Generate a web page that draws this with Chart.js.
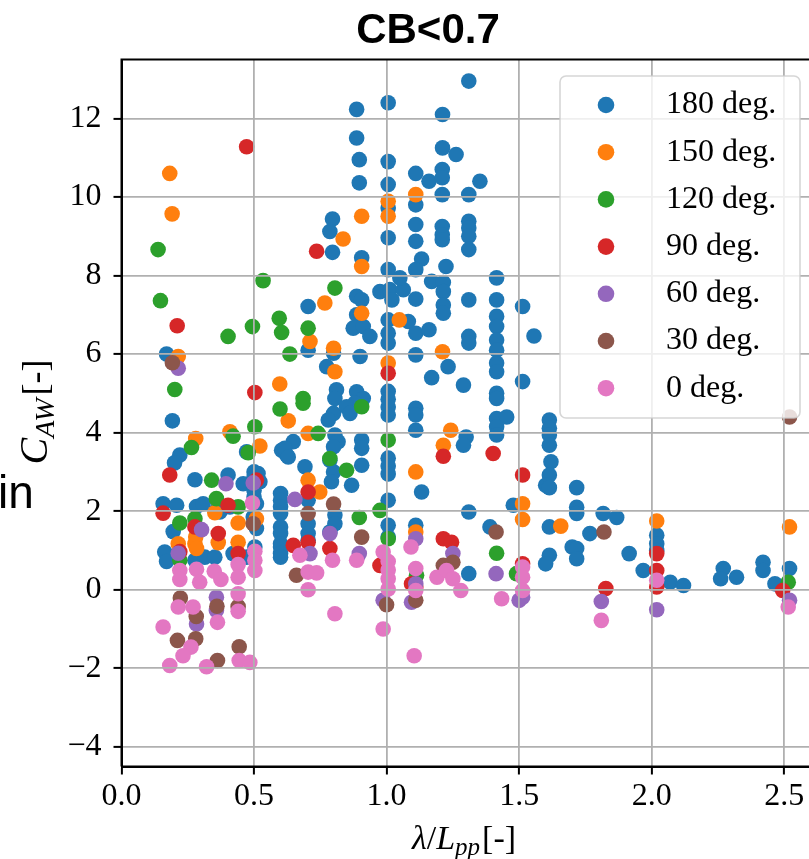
<!DOCTYPE html>
<html>
<head>
<meta charset="utf-8">
<script src="https://cdn.jsdelivr.net/npm/chart.js@4.4.1/dist/chart.umd.min.js"></script>
<style>
  html, body { margin: 0; padding: 0; background: #ffffff; overflow: hidden; }
  canvas { display: block; }
</style>
</head>
<body>
<canvas id="chart" width="856" height="859"></canvas>
<script>
// Added-resistance coefficient vs. wave length ratio, grouped by wave heading.
const headings = ['180 deg.', '150 deg.', '120 deg.', '90 deg.', '60 deg.', '30 deg.', '0 deg.'];
const colors = ['#1f77b4', '#ff7f0e', '#2ca02c', '#d62728', '#9467bd', '#8c564b', '#e377c2'];
const xTicks = [0.0, 0.5, 1.0, 1.5, 2.0, 2.5];
const yTicks = [-4, -2, 0, 2, 4, 6, 8, 10, 12];

// [lambda/Lpp, C_AW] pairs per heading
const deg180 = [
  [0.17,6.0],[0.192,4.3],[0.22,3.43],[0.2,3.23],[0.277,2.8],[0.402,2.92],[0.459,2.7],[0.515,2.96],[0.522,2.75],
  [0.157,2.19],[0.208,2.15],[0.283,2.12],[0.308,2.19],[0.358,2.02],[0.409,2.11],[0.371,1.98],
  [0.497,1.85],[0.509,2.19],[0.509,1.56],[0.195,1.48],[0.163,0.96],[0.17,0.72],[0.277,0.75],[0.314,0.83],[0.352,0.83],[0.421,0.92],[0.472,0.83],[0.503,1.09],
  [0.472,3.51],[0.604,3.55],[0.623,3.43],[0.648,3.77],
  [0.5,3.0],[0.5,2.87],[0.5,2.53],[0.5,2.36],
  [0.6,2.45],[0.6,2.28],[0.6,2.11],[0.6,1.94],[0.6,1.6],[0.6,1.43],[0.6,1.17],[0.6,1.09],[0.6,0.92],[0.6,0.83],
  [0.616,3.6],[0.629,3.38],[0.692,3.13],
  [0.704,2.28],[0.704,1.68],[0.704,1.43],[0.704,1.26],[0.704,7.21],[0.704,6.1],
  [0.811,5.09],[0.805,4.87],[0.8,4.49],[0.78,4.32],[0.805,3.94],[0.817,3.77],[0.8,3.64],[0.786,3.3],[0.8,3.0],[0.792,2.75],[0.805,1.9],[0.805,1.68],[0.786,1.47],[0.774,5.68],[0.8,6.02],[0.796,9.44],[0.786,9.12],[0.796,8.59],
  [0.887,5.04],[0.912,4.87],[0.88,4.75],[0.849,4.66],[0.862,4.49],[0.868,2.66],[0.906,3.81],[0.906,3.6],[0.906,3.17],[0.9,5.94],[0.887,7.0],[0.874,6.66],[0.912,6.7],[0.937,6.45],[0.887,7.47],[0.906,7.38],[0.906,8.45],[0.887,12.23],[0.887,11.5],[0.897,10.95],[0.897,10.36],
  [1.006,12.4],[1.006,10.9],[1.006,10.32],[1.006,9.72],[1.006,8.96],[1.006,8.15],[0.975,7.59],[1.012,7.64],[1.02,7.38],[1.063,7.64],[1.05,7.94],[1.006,6.87],[1.006,6.53],[1.006,6.28],[1.006,5.05],[1.006,4.85],[1.006,4.65],[1.006,4.45],[1.006,3.35],[1.006,3.15],[1.006,2.95],[1.006,2.28],[1.006,1.64],[1.006,1.34],
  [1.11,10.6],[1.11,9.8],[1.11,9.3],[1.11,8.87],[1.132,8.42],[1.11,8.15],[1.11,7.4],[1.082,6.83],[1.11,6.53],[1.11,5.98],[1.11,4.62],[1.11,4.45],[1.11,4.06],[1.132,2.49],[1.11,1.64],[1.16,6.62],[1.17,5.4],
  [1.211,12.1],[1.211,11.25],[1.262,11.08],[1.21,10.7],[1.16,10.4],[1.21,10.49],[1.21,10.06],[1.21,9.25],[1.21,9.04],[1.21,8.91],[1.224,8.23],[1.17,7.85],[1.214,7.82],[1.214,7.59],[1.214,7.25],[1.214,7.04],[1.232,5.68],
  [1.31,12.95],[1.352,10.4],[1.31,10.06],[1.31,9.38],[1.31,9.21],[1.31,9.0],[1.31,8.66],[1.31,7.38],[1.31,6.45],[1.31,6.28],[1.29,5.21],[1.3,3.89],[1.29,3.68],[1.31,1.98],[1.31,0.41],
  [1.415,7.94],[1.415,7.38],[1.415,6.96],[1.415,6.7],[1.415,6.36],[1.415,6.1],[1.415,5.77],[1.415,5.55],[1.415,5.0],[1.415,4.87],[1.415,4.36],[1.453,4.4],[1.415,4.15],[1.415,3.94],[1.39,1.6],
  [1.513,7.21],[1.556,6.46],[1.513,5.3],[1.478,2.15],
  [1.614,4.32],[1.614,4.11],[1.614,3.94],[1.614,3.68],[1.62,3.26],[1.614,2.92],[1.6,2.66],[1.614,2.6],[1.614,1.6],[1.614,0.88],[1.6,0.66],
  [1.717,2.6],[1.717,2.1],[1.717,1.94],[1.7,1.09],[1.717,1.05],[1.717,0.79],
  [1.817,1.94],[1.868,1.84],[1.767,1.43],
  [1.915,0.92],[1.968,0.49],[2.019,1.39],[2.019,1.17],[2.019,1.0],[2.07,0.19],[2.12,0.11],[2.27,0.54],[2.26,0.28],[2.32,0.32],[2.42,0.7],[2.42,0.49],[2.465,0.15],[2.52,0.54]
];
const deg150 = [
  [0.182,10.6],[0.191,9.57],[0.214,5.94],[0.28,3.85],[0.409,4.02],[0.522,3.66],[0.597,5.24],[0.629,4.3],[0.704,3.98],[0.711,6.32],[0.767,7.3],[0.8,6.15],[0.805,5.55],[0.836,8.93],
  [0.906,9.51],[0.906,8.23],[0.906,7.04],[1.006,9.89],[1.006,9.51],[1.11,10.06],[1.048,6.87],[1.211,6.06],[1.006,5.77],[1.242,4.06],[1.214,3.68],[1.11,3.0],[0.704,2.79],[0.748,2.49],
  [1.513,2.19],[1.513,1.79],[1.657,1.62],[2.019,1.75],[2.52,1.6],[1.11,1.47],
  [0.352,1.96],[0.44,1.7],[0.509,1.81],[0.28,1.34],[0.277,1.17],[0.283,1.05],[0.365,1.2],[0.44,1.21],[0.214,1.17]
];
const deg120 = [
  [0.138,8.66],[0.147,7.36],[0.201,5.1],[0.264,3.62],[0.421,3.91],[0.503,4.15],[0.478,3.49],[0.402,6.45],[0.494,6.7],[0.534,7.87],[0.595,6.91],[0.604,6.55],[0.635,6.0],[0.598,4.6],
  [0.685,4.87],[0.685,4.75],[0.704,6.66],[0.805,7.68],[0.742,3.98],[0.786,3.34],[0.849,3.04],[0.906,4.66],[1.006,3.81],[0.975,2.02],[0.897,1.84],[1.006,1.3],[1.415,0.93],[1.49,0.41],
  [2.515,0.19],[1.113,0.37],[0.34,2.79],[0.358,2.32],[0.44,2.11],[0.22,1.7],[0.277,1.81],[0.22,0.75]
];
const deg90 = [
  [0.472,11.28],[0.736,8.62],[0.21,6.72],[0.503,5.02],[1.006,5.51],[1.214,3.4],[1.402,3.47],[0.182,2.92],[0.157,1.95],[0.402,2.15],[0.509,2.79],[0.704,2.49],[1.513,2.92],
  [0.277,1.6],[0.365,1.43],[0.22,0.97],[0.44,0.92],[0.648,1.13],[0.704,1.21],[0.786,1.05],[1.214,1.3],[1.245,1.21],[0.975,0.62],[1.094,0.15],[1.11,0.07],[1.513,0.66],
  [1.827,0.03],[2.019,0.92],[2.019,0.49],[2.019,0.07],[2.494,-0.02]
];
const deg60 = [
  [0.214,5.64],[0.394,2.7],[0.497,2.72],[0.654,2.3],[0.302,1.53],[0.214,0.93],[0.786,1.43],[0.897,0.92],[0.711,0.92],[1.11,1.3],[1.25,0.92],[1.413,0.41],[0.987,-0.27],
  [1.11,0.15],[1.094,-0.32],[0.358,-0.19],[0.358,-0.53],[0.283,-0.87],[1.5,-0.27],[1.513,-0.19],[1.81,-0.3],[2.019,-0.51],[2.52,-0.27]
];
const deg30 = [
  [0.192,5.78],[0.497,1.68],[0.704,1.94],[0.8,2.18],[0.906,1.34],[1.413,1.47],[1.82,1.47],[2.52,4.4],[0.66,0.37],[1.25,0.7],[1.214,0.62],[1.0,-0.38],[1.11,-0.27],
  [0.222,-0.21],[0.36,-0.42],[0.282,-0.68],[0.44,-0.43],[0.211,-1.29],[0.28,-1.25],[0.362,-1.8],[0.444,-1.45]
];
const deg0 = [
  [0.494,2.21],[0.503,0.98],[0.503,0.75],[0.503,0.49],[0.44,0.64],[0.44,0.32],[0.44,-0.1],[0.22,0.49],[0.22,0.26],[0.283,0.52],[0.295,0.19],[0.35,0.47],[0.375,0.26],
  [0.214,-0.44],[0.27,-0.44],[0.157,-0.95],[0.44,-0.55],[0.362,-0.83],[0.262,-1.46],[0.232,-1.68],[0.182,-1.93],[0.321,-1.96],[0.444,-1.8],[0.484,-1.85],
  [0.673,0.88],[0.704,0.45],[0.736,0.43],[0.704,0.0],[0.796,0.75],[0.887,0.75],[0.987,0.96],[1.006,0.72],[1.006,0.5],[1.006,0.28],[1.006,0.02],[1.092,1.09],[1.11,0.54],
  [1.11,-0.02],[1.19,0.32],[1.226,0.49],[1.25,0.28],[1.28,-0.02],[1.434,-0.23],[1.513,0.58],[1.513,0.32],[1.513,-0.02],[0.805,-0.61],[0.987,-1.0],[1.104,-1.68],[1.81,-0.78],
  [2.019,0.24],[2.515,-0.44]
];
const seriesData = [deg180, deg150, deg120, deg90, deg60, deg30, deg0];

const SERIF = '"Liberation Serif", "DejaVu Serif", serif';
const SANS = '"Liberation Sans", Arial, sans-serif';

// Draws a run of text pieces with individual fonts and baseline shifts, centred on (cx, cy).
function drawRich(ctx, parts, cx, cy, rotation) {
  ctx.save();
  ctx.translate(cx, cy);
  if (rotation) ctx.rotate(rotation);
  ctx.textBaseline = 'alphabetic';
  ctx.textAlign = 'left';
  ctx.fillStyle = '#000000';
  let total = 0;
  parts.forEach(p => { ctx.font = p.font; p.w = ctx.measureText(p.text).width; total += p.w + (p.gap || 0); });
  let x = -total / 2;
  parts.forEach(p => {
    ctx.font = p.font;
    ctx.fillText(p.text, x, p.dy || 0);
    x += p.w + (p.gap || 0);
  });
  ctx.restore();
}

const decorations = {
  id: 'decorations',
  afterDraw(chart) {
    const ctx = chart.ctx;
    const a = chart.chartArea;

    // axes frame
    ctx.save();
    ctx.strokeStyle = '#000000';
    ctx.lineWidth = 2;
    ctx.beginPath();
    ctx.moveTo(a.left, a.bottom);
    ctx.lineTo(a.left, a.top);
    ctx.lineTo(a.right, a.top);
    ctx.lineTo(a.right, a.bottom);
    ctx.lineTo(a.left, a.bottom);
    ctx.stroke();
    ctx.restore();

    // axis titles
    drawRich(ctx, [
      {text: 'C', font: 'italic 40px ' + SERIF},
      {text: 'AW', font: 'italic 28px ' + SERIF, dy: 7, gap: 3},
      {text: '[-]', font: '36px ' + SERIF}
    ], 47, 412, -Math.PI / 2);
    drawRich(ctx, [
      {text: 'λ', font: 'italic 34px ' + SERIF},
      {text: '/', font: '34px ' + SERIF},
      {text: 'L', font: 'italic 34px ' + SERIF},
      {text: 'pp', font: 'italic 25px ' + SERIF, dy: 6, gap: 2},
      {text: '[-]', font: '34px ' + SERIF}
    ], 464, 849, 0);

    // stray label fragment at the left edge
    ctx.save();
    ctx.font = '46px ' + SANS;
    ctx.fillStyle = '#000000';
    ctx.textAlign = 'left';
    ctx.textBaseline = 'alphabetic';
    ctx.fillText('in', -2, 508);
    ctx.restore();

    // legend box
    const box = {x: 560, y: 76, w: 240, h: 342, r: 6};
    ctx.save();
    ctx.beginPath();
    ctx.roundRect(box.x, box.y, box.w, box.h, box.r);
    ctx.fillStyle = 'rgba(255,255,255,0.8)';
    ctx.fill();
    ctx.strokeStyle = 'rgba(204,204,204,0.8)';
    ctx.lineWidth = 1.6;
    ctx.stroke();
    ctx.font = '32px ' + SERIF;
    ctx.textBaseline = 'middle';
    ctx.textAlign = 'left';
    chart.data.datasets.forEach((ds, i) => {
      const y = 105 + i * 47.2;
      ctx.beginPath();
      ctx.arc(606, y, 8.3, 0, Math.PI * 2);
      ctx.fillStyle = ds.backgroundColor;
      ctx.fill();
      ctx.fillStyle = '#000000';
      ctx.fillText(ds.label, 666, y);
    });
    ctx.restore();
  }
};

const datasets = seriesData.map((pts, i) => ({
  label: headings[i],
  data: pts.map(p => ({x: p[0], y: p[1]})),
  backgroundColor: colors[i],
  borderColor: colors[i],
  pointRadius: 7.8,
  pointBorderWidth: 0,
  pointHoverRadius: 7.8,
  order: headings.length - i
}));

new Chart(document.getElementById('chart'), {
  type: 'scatter',
  data: {datasets},
  options: {
    responsive: false,
    animation: false,
    events: [],
    devicePixelRatio: 1,
    layout: {padding: 0},
    plugins: {
      legend: {display: false},
      tooltip: {enabled: false},
      title: {
        display: true,
        text: 'CB<0.7',
        color: '#000000',
        font: {family: SANS, size: 42, weight: 'bold', lineHeight: 1.2},
        padding: {top: 6, bottom: 3.1}
      }
    },
    scales: {
      x: {
        type: 'linear',
        min: 0,
        max: 2.65,
        z: 1,
        afterBuildTicks: s => { s.ticks = xTicks.map(v => ({value: v})); },
        afterFit: s => { s.height = 92.5; },
        grid: {color: '#b0b0b0', lineWidth: 1.8, z: 1, tickColor: '#000000', tickLength: 8, tickWidth: 2},
        border: {display: true, color: '#000000', width: 2, z: 2},
        ticks: {
          color: '#000000',
          font: {family: SERIF, size: 32},
          padding: 3,
          maxRotation: 0,
          callback: v => v.toFixed(1)
        }
      },
      y: {
        type: 'linear',
        min: -4.5,
        max: 13.5,
        z: 1,
        afterBuildTicks: s => { s.ticks = yTicks.map(v => ({value: v})); },
        afterFit: s => { s.width = 121.5; },
        grid: {color: '#b0b0b0', lineWidth: 1.8, z: 1, tickColor: '#000000', tickLength: 8, tickWidth: 2},
        border: {display: true, color: '#000000', width: 2, z: 2},
        ticks: {
          color: '#000000',
          font: {family: SERIF, size: 32},
          padding: 12,
          callback: v => (v < 0 ? '\u2212' + Math.abs(v) : String(v))
        }
      },
      // empty right-hand strip, keeps the plot edge past the window while the title stays centred on the figure
      rightPad: {
        type: 'linear',
        position: 'right',
        display: true,
        grid: {display: false, drawTicks: false},
        border: {display: false},
        ticks: {display: false},
        afterFit: s => { s.width = 32; }
      }
    }
  },
  plugins: [decorations]
});
</script>
</body>
</html>
